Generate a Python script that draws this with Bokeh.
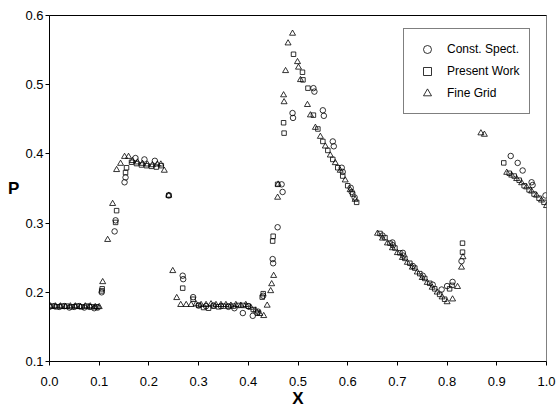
from bokeh.plotting import figure
from bokeh.models import Range1d, FixedTicker, PrintfTickFormatter, Legend, LinearAxis
from bokeh.embed import file_html
from bokeh.resources import INLINE

x_ticks = [0.0, 0.1, 0.2, 0.3, 0.4, 0.5, 0.6, 0.7, 0.8, 0.9, 1.0]
y_ticks = [0.1, 0.2, 0.3, 0.4, 0.5, 0.6]

circ_x = [0.000, 0.010, 0.020, 0.030, 0.040, 0.050, 0.060, 0.070, 0.080, 0.090, 0.097,
          0.105, 0.131, 0.133, 0.151, 0.153, 0.173, 0.191, 0.212, 0.240, 0.268, 0.269,
          0.289, 0.300, 0.315, 0.330, 0.345, 0.360, 0.372, 0.389, 0.400, 0.409, 0.420,
          0.430, 0.449, 0.450, 0.459, 0.467, 0.469, 0.489, 0.490, 0.531, 0.533, 0.550,
          0.552, 0.570, 0.572, 0.588, 0.590, 0.606, 0.608, 0.614, 0.670, 0.690, 0.691,
          0.711, 0.712, 0.731, 0.751, 0.771, 0.789, 0.800, 0.811, 0.829, 0.928, 0.942,
          0.952, 0.970, 0.972, 0.998]
circ_y = [0.179, 0.180, 0.179, 0.180, 0.178, 0.179, 0.180, 0.178, 0.179, 0.177, 0.178,
          0.200, 0.288, 0.304, 0.359, 0.366, 0.394, 0.392, 0.390, 0.340, 0.224, 0.219,
          0.193, 0.181, 0.180, 0.181, 0.180, 0.179, 0.177, 0.170, 0.180, 0.166, 0.172,
          0.195, 0.248, 0.242, 0.294, 0.356, 0.345, 0.459, 0.452, 0.495, 0.490, 0.463,
          0.455, 0.418, 0.411, 0.380, 0.374, 0.351, 0.345, 0.337, 0.282, 0.272, 0.268,
          0.257, 0.253, 0.238, 0.224, 0.211, 0.204, 0.209, 0.215, 0.245, 0.397, 0.387,
          0.376, 0.359, 0.355, 0.340]

sq_x = [0.005, 0.015, 0.025, 0.035, 0.045, 0.055, 0.065, 0.075, 0.085, 0.095,
        0.105, 0.106, 0.133, 0.135, 0.153, 0.155, 0.165, 0.175, 0.185, 0.195, 0.205,
        0.215, 0.225, 0.240, 0.268, 0.289, 0.300, 0.310, 0.320, 0.330, 0.340, 0.350,
        0.360, 0.370, 0.380, 0.390, 0.400, 0.410, 0.418, 0.428, 0.430, 0.449, 0.450,
        0.459, 0.471, 0.472, 0.491, 0.509, 0.510, 0.520, 0.531, 0.540, 0.550, 0.560,
        0.570, 0.580, 0.590, 0.600, 0.610, 0.618, 0.665, 0.675, 0.685, 0.695, 0.705,
        0.715, 0.725, 0.735, 0.745, 0.755, 0.765, 0.775, 0.785, 0.795, 0.805, 0.810,
        0.831, 0.831, 0.914, 0.925, 0.935, 0.945, 0.955, 0.965, 0.975, 0.985, 0.995]
sq_y = [0.180, 0.179, 0.180, 0.180, 0.179, 0.180, 0.179, 0.180, 0.179, 0.179,
        0.202, 0.205, 0.301, 0.318, 0.373, 0.380, 0.388, 0.386, 0.384, 0.383, 0.382,
        0.381, 0.383, 0.340, 0.206, 0.190, 0.181, 0.178, 0.177, 0.180, 0.179, 0.180,
        0.180, 0.180, 0.181, 0.181, 0.180, 0.175, 0.170, 0.193, 0.198, 0.274, 0.281,
        0.356, 0.445, 0.430, 0.544, 0.518, 0.507, 0.495, 0.456, 0.436, 0.418, 0.405,
        0.392, 0.380, 0.368, 0.354, 0.342, 0.330, 0.285, 0.279, 0.271, 0.264, 0.257,
        0.249, 0.242, 0.235, 0.227, 0.220, 0.213, 0.205, 0.197, 0.190, 0.205, 0.210,
        0.271, 0.258, 0.387, 0.372, 0.368, 0.362, 0.354, 0.348, 0.342, 0.336, 0.330]

tri_x = [0.002, 0.012, 0.022, 0.032, 0.042, 0.052, 0.062, 0.072, 0.082, 0.092, 0.100,
         0.107, 0.117, 0.127, 0.135, 0.143, 0.151, 0.159, 0.167, 0.177, 0.187, 0.197,
         0.207, 0.217, 0.224, 0.231, 0.240, 0.248, 0.256, 0.264, 0.275, 0.285, 0.295,
         0.305, 0.315, 0.325, 0.335, 0.345, 0.355, 0.365, 0.375, 0.385, 0.395, 0.405,
         0.415, 0.423, 0.431, 0.438, 0.445, 0.447, 0.451, 0.459, 0.460, 0.471, 0.472,
         0.475, 0.480, 0.489, 0.499, 0.501, 0.505, 0.519, 0.525, 0.535, 0.545, 0.555,
         0.565, 0.575, 0.585, 0.595, 0.605, 0.615, 0.660, 0.670, 0.680, 0.690, 0.700,
         0.710, 0.720, 0.730, 0.740, 0.750, 0.760, 0.770, 0.780, 0.790, 0.800, 0.811,
         0.821, 0.829, 0.832, 0.868, 0.875, 0.920, 0.930, 0.940, 0.950, 0.960, 0.970,
         0.980, 0.990, 1.000]
tri_y = [0.180, 0.180, 0.180, 0.179, 0.180, 0.180, 0.179, 0.180, 0.180, 0.179, 0.179,
         0.215, 0.276, 0.328, 0.377, 0.386, 0.396, 0.396, 0.390, 0.388, 0.386, 0.385,
         0.384, 0.385, 0.385, 0.376, 0.340, 0.231, 0.192, 0.182, 0.182, 0.182, 0.183,
         0.182, 0.182, 0.183, 0.182, 0.182, 0.182, 0.181, 0.182, 0.181, 0.182, 0.178,
         0.174, 0.169, 0.166, 0.181, 0.202, 0.212, 0.224, 0.337, 0.356, 0.485, 0.475,
         0.520, 0.560, 0.574, 0.533, 0.525, 0.507, 0.471, 0.456, 0.438, 0.425, 0.411,
         0.398, 0.387, 0.376, 0.362, 0.348, 0.334, 0.285, 0.278, 0.271, 0.264, 0.257,
         0.250, 0.243, 0.236, 0.229, 0.221, 0.214, 0.207, 0.200, 0.193, 0.186, 0.190,
         0.208, 0.236, 0.251, 0.430, 0.428, 0.373, 0.369, 0.364, 0.358, 0.352, 0.346,
         0.340, 0.333, 0.325]

series_names = ["Const. Spect.", "Present Work", "Fine Grid"]

FONT = "Liberation Sans"

p = figure(width=557, height=410, output_backend="svg", toolbar_location=None,
           x_range=Range1d(0.0, 1.0), y_range=Range1d(0.1, 0.6),
           min_border_left=49, min_border_right=11, min_border_top=15, min_border_bottom=47)
p.background_fill_color = "white"
p.border_fill_color = "white"
p.outline_line_color = "#808080"
p.outline_line_width = 1
p.grid.visible = False

for ax in (p.xaxis[0], p.yaxis[0]):
    ax.axis_line_color = "black"
    ax.axis_line_width = 1
    ax.major_tick_line_color = "black"
    ax.major_tick_out = 4
    ax.major_tick_in = 0
    ax.minor_tick_line_color = None
    ax.major_label_text_font = FONT
    ax.major_label_text_font_size = "13px"
    ax.major_label_text_color = "black"
    ax.formatter = PrintfTickFormatter(format="%.1f")
    ax.axis_label_text_font = FONT
    ax.axis_label_text_font_size = "17px"
    ax.axis_label_text_font_style = "bold"
    ax.axis_label_text_color = "black"

p.xaxis.ticker = FixedTicker(ticks=x_ticks)
p.yaxis.ticker = FixedTicker(ticks=y_ticks)
p.xaxis.major_label_standoff = 11
p.yaxis.major_label_standoff = 2
p.xaxis.axis_label = "X"
p.xaxis.axis_label_standoff = 0
p.yaxis.axis_label = "P"
p.yaxis.axis_label_orientation = "horizontal"
p.yaxis.axis_label_standoff = 3

top_axis = LinearAxis(ticker=FixedTicker(ticks=[]), axis_line_color="black",
                      major_tick_line_color=None, minor_tick_line_color=None,
                      major_label_text_font_size="0px")
p.add_layout(top_axis, "above")

lw = 0.8
r1 = p.scatter(circ_x, circ_y, marker="circle", size=5.5, line_color="black",
               line_width=lw, fill_alpha=0)
r2 = p.scatter(sq_x, sq_y, marker="square", size=4.5, line_color="black",
               line_width=lw, fill_alpha=0)
r3 = p.scatter(tri_x, tri_y, marker="triangle", size=6, line_color="black",
               line_width=lw, fill_alpha=0)

legend = Legend(items=[(series_names[0], [r1]), (series_names[1], [r2]), (series_names[2], [r3])],
                location=(354, 247))
legend.label_text_font = FONT
legend.label_text_font_size = "12px"
legend.label_text_color = "black"
legend.border_line_color = "black"
legend.border_line_width = 1
legend.background_fill_alpha = 1
legend.padding = 10
legend.spacing = 2
legend.margin = 0
legend.label_height = 20
legend.glyph_height = 20
legend.glyph_width = 26
legend.label_standoff = 7
p.add_layout(legend, "center")

open("out.html", "w").write(file_html(p, INLINE))
